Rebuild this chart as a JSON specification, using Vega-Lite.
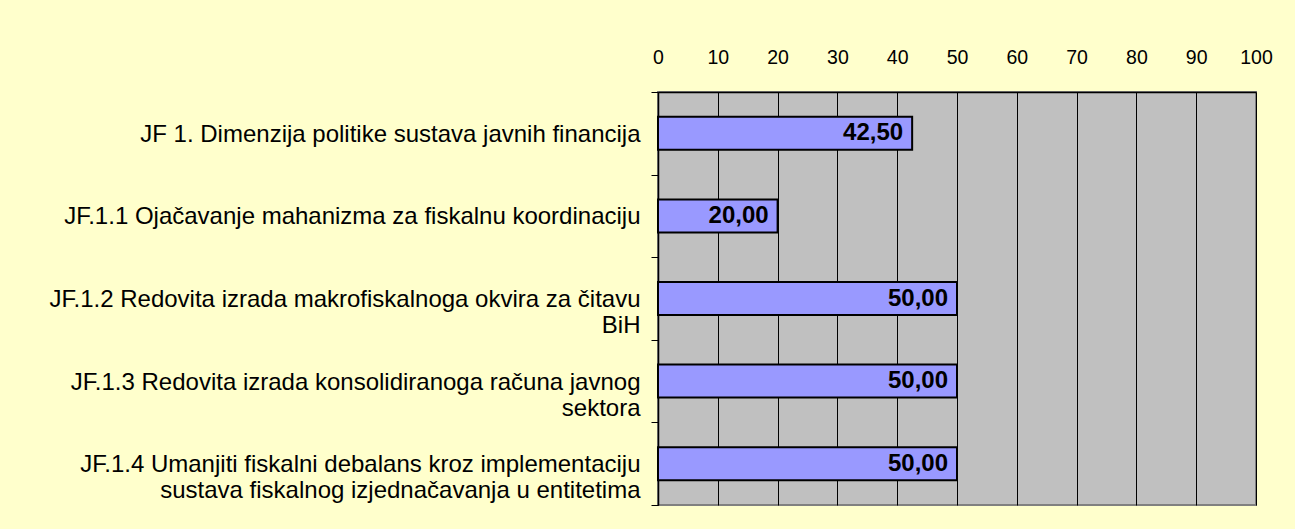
{
  "$schema": "https://vega.github.io/schema/vega-lite/v6.json",
  "autosize": "none",
  "width": 598,
  "height": 413,
  "padding": {"left": 658, "top": 92, "right": 39, "bottom": 24},
  "background": "#FFFFCC",
  "config": {
    "locale": {"number": {"decimal": ",", "thousands": ".", "grouping": [3], "currency": ["", ""]}},
    "view": {"fill": "#C0C0C0", "stroke": "#808080", "strokeWidth": 2},
    "font": "Liberation Sans"
  },
  "data": {
    "values": [
      {"category": "JF 1. Dimenzija politike sustava javnih financija", "value": 42.5},
      {"category": "JF.1.1 Ojačavanje mahanizma za fiskalnu koordinaciju", "value": 20},
      {"category": "JF.1.2 Redovita izrada makrofiskalnoga okvira za čitavu\nBiH", "value": 50},
      {"category": "JF.1.3 Redovita izrada konsolidiranoga računa javnog\nsektora", "value": 50},
      {"category": "JF.1.4  Umanjiti fiskalni debalans kroz implementaciju\nsustava fiskalnog izjednačavanja u entitetima", "value": 50}
    ]
  },
  "encoding": {
    "y": {
      "field": "category",
      "type": "nominal",
      "sort": null,
      "scale": {"paddingInner": 0, "paddingOuter": 0},
      "axis": {
        "title": null,
        "labelExpr": "split(datum.label, '\\n')",
        "labelLimit": 700,
        "labelFont": "Liberation Sans",
        "labelFontSize": 24,
        "labelLineHeight": 26,
        "labelColor": "#000000",
        "labelPadding": 11,
        "labelOffset": 1,
        "tickBand": "extent",
        "tickSize": 7,
        "tickColor": "#000000",
        "domainColor": "#000000",
        "domainWidth": 1.5,
        "grid": false
      }
    }
  },
  "layer": [
    {
      "mark": {"type": "bar", "fill": "#9999FF", "stroke": "#000000", "strokeWidth": 2, "height": {"band": 0.4}},
      "encoding": {
        "x": {
          "field": "value",
          "type": "quantitative",
          "scale": {"domain": [0, 100], "nice": false},
          "axis": {
            "orient": "top",
            "title": null,
            "values": [0, 10, 20, 30, 40, 50, 60, 70, 80, 90, 100],
            "labelFont": "Liberation Sans",
            "labelFontSize": 19.5,
            "labelColor": "#000000",
            "labelPadding": 25,
            "ticks": false,
            "tickSize": 0,
            "domainColor": "#000000",
            "domainWidth": 1.5,
            "grid": true,
            "gridColor": "#000000",
            "gridWidth": 1,
            "gridOpacity": 1,
            "labelFlush": false
          }
        }
      }
    },
    {
      "mark": {"type": "text", "align": "right", "baseline": "middle", "dx": -9, "fontWeight": "bold", "fontSize": 24, "font": "Liberation Sans", "color": "#000000"},
      "encoding": {
        "x": {"field": "value", "type": "quantitative"},
        "text": {"field": "value", "type": "quantitative", "format": ".2f"}
      }
    }
  ]
}
